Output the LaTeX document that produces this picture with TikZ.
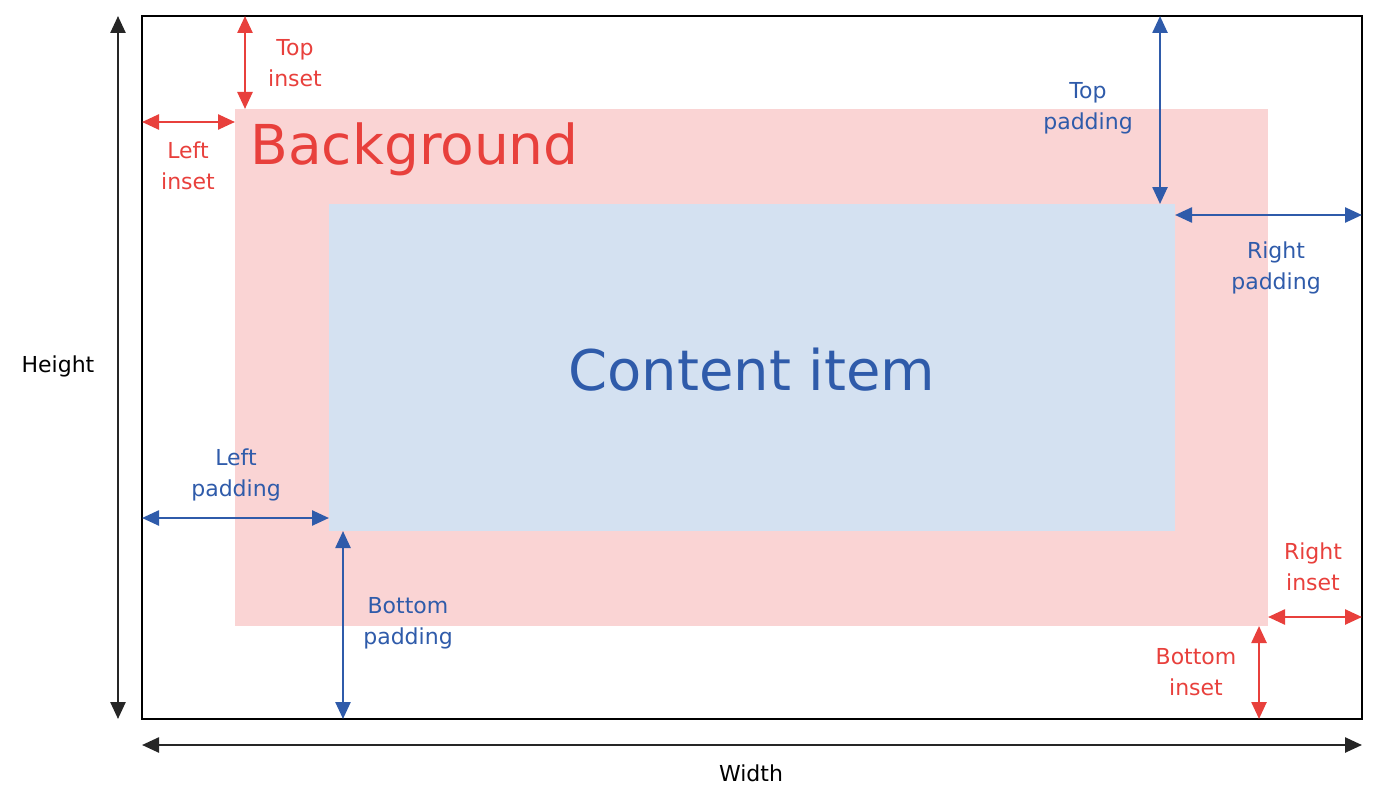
\documentclass[tikz,border=0pt]{standalone}
\usepackage{fontspec}
\setmainfont{DejaVu Sans}
\usetikzlibrary{arrows.meta}
\definecolor{rd}{HTML}{E8403C}
\definecolor{bl}{HTML}{2F5BAA}
\definecolor{pk}{HTML}{FAD4D4}
\definecolor{lb}{HTML}{D4E1F1}
\begin{document}
\begin{tikzpicture}[x=1pt,y=-1pt,
 dim/.style={line width=2.5pt,{Triangle[length=17pt,width=15pt]}-{Triangle[length=17pt,width=15pt]}},
 lab/.style={font=\fontsize{22}{31}\selectfont,align=center}]
\useasboundingbox (0,0) rectangle (1388,797);
\fill[pk] (235,109) rectangle (1268,626);
\fill[lb] (329,204) rectangle (1175,531);
\draw[line width=2pt] (142,16) rectangle (1362,719);
\node[font=\fontsize{55}{60}\selectfont,text=rd,anchor=west] (bg) at (247,149) {Background};
\node[font=\fontsize{56}{60}\selectfont,text=bl] (ci) at (752,370) {Content item};
\coordinate (h1) at (118,16); \coordinate (h2) at (118,719);
\coordinate (w1) at (142,745); \coordinate (w2) at (1362,745);
\coordinate (ti1) at (245,16); \coordinate (ti2) at (245,109);
\coordinate (li1) at (142,122); \coordinate (li2) at (235,122);
\coordinate (tp1) at (1160,16); \coordinate (tp2) at (1160,204);
\coordinate (rp1) at (1175,215); \coordinate (rp2) at (1362,215);
\coordinate (lp1) at (142,518); \coordinate (lp2) at (329,518);
\coordinate (bp1) at (343,531); \coordinate (bp2) at (343,719);
\coordinate (ri1) at (1268,617); \coordinate (ri2) at (1362,617);
\coordinate (bi1) at (1259,626); \coordinate (bi2) at (1259,719);
\draw[dim,black!85] (h1) -- (h2);
\draw[dim,black!85] (w1) -- (w2);
\draw[dim,rd] (ti1) -- (ti2);
\draw[dim,rd] (li1) -- (li2);
\draw[dim,bl] (tp1) -- (tp2);
\draw[dim,bl] (rp1) -- (rp2);
\draw[dim,bl] (lp1) -- (lp2);
\draw[dim,bl] (bp1) -- (bp2);
\draw[dim,rd] (ri1) -- (ri2);
\draw[dim,rd] (bi1) -- (bi2);
\node[lab] (lh) at (58,366) {Height};
\node[lab] (lw) at (751,773) {Width};
\node[lab,text=rd] (lti) at (295,63) {Top\\inset};
\node[lab,text=rd] (lli) at (188,166) {Left\\inset};
\node[lab,text=bl] (ltp) at (1088,108) {Top\\padding};
\node[lab,text=bl] (lrp) at (1276,268) {Right\\padding};
\node[lab,text=bl] (llp) at (236,475) {Left\\padding};
\node[lab,text=bl] (lbp) at (408,623) {Bottom\\padding};
\node[lab,text=rd] (lri) at (1313,567) {Right\\inset};
\node[lab,text=rd] (lbi) at (1196,672) {Bottom\\inset};
\end{tikzpicture}
\end{document}
